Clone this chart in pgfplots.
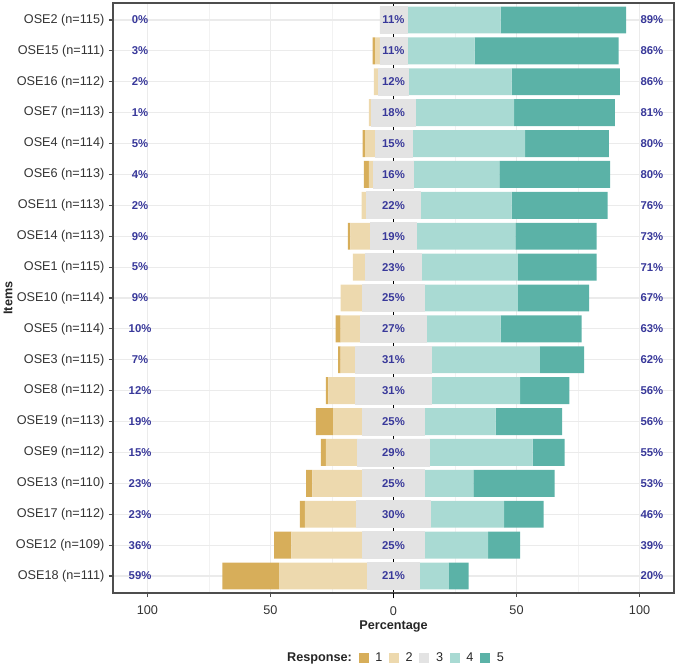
\documentclass[border=0pt]{standalone}
\usepackage{pgfplots}
\pgfplotsset{compat=1.18}
\usepackage{pgfplotstable}
\usepackage{fontspec}
\setmainfont{Liberation Sans}
\definecolor{c1}{HTML}{D7AE5A}
\definecolor{c2}{HTML}{EDD9AE}
\definecolor{c3}{HTML}{E3E3E3}
\definecolor{c4}{HTML}{A9DAD3}
\definecolor{c5}{HTML}{5BB2A7}
\definecolor{pctblue}{HTML}{38389A}
\definecolor{framegray}{HTML}{4D4D4D}
\definecolor{txtgray}{HTML}{333333}

\pgfplotstableread{
y p1 p2 p3 p4 p5 lo mid hi
19 0 0 11 38 51 0 11 89
18 1 2 11 27.5 58.5 3 11 86
17 0 2 12 42 44 2 12 86
16 0 1 18 40 41 1 18 81
15 1 4 15 46 34 5 15 80
14 2 2 16 35 45 4 16 80
13 0 2 22 37 39 2 22 76
12 1 8 19 40 33 9 19 73
11 0 5 23 39 32 5 23 71
10 0 9 25 38 29 9 25 67
9 2 8 27 30 33 10 27 63
8 1 6 31 44 18 7 31 62
7 1 11 31 36 20 12 31 56
6 7 12 25 29 27 19 25 56
5 2 13 29 42 13 15 29 55
4 2.5 20.5 25 20 33 23 25 53
3 2 21 30 30 16 23 30 46
2 7 29 25 26 13 36 25 39
1 23 36 21 12 8 59 21 20
}\likert

\pgfplotsset{
  likertbase/.style={
    scale only axis, width=420.75pt, height=442.5pt,
    xmin=-114, xmax=114, ymin=0.45, ymax=19.55,
    at={(0,0)}, anchor=south west,
  },
}
\begin{document}
\begin{tikzpicture}
% axis 0: zero reference line, beneath everything
\begin{axis}[likertbase, hide axis]
\addplot[black, line width=0.8pt] coordinates {(0,0.45) (0,19.55)};
\end{axis}
% axis 1: frame, grid, negative side
\begin{axis}[likertbase,
  xbar stacked, bar width=20.2pt,
  axis line style={framegray, line width=1.1pt},
  xtick={-100,-50,50,100}, xticklabels={100,50,50,100},
  extra x ticks={0}, extra x tick labels={0},
  extra x tick style={grid=none, major tick length=4pt, tick style={black, line width=1.1pt}},
  minor xtick={-75,-25,25,75}, minor tick length=0pt,
  ytick={1,...,19},
  yticklabels={OSE18 (n=111),OSE12 (n=109),OSE17 (n=112),OSE13 (n=110),OSE9 (n=112),OSE19 (n=113),OSE8 (n=112),OSE3 (n=115),OSE5 (n=114),OSE10 (n=114),OSE1 (n=115),OSE14 (n=113),OSE11 (n=113),OSE6 (n=113),OSE4 (n=114),OSE7 (n=113),OSE16 (n=112),OSE15 (n=111),OSE2 (n=115)},
  tick pos=left, tick align=outside, major tick length=3pt,
  tick style={framegray, line width=0.8pt},
  xmajorgrids, xminorgrids, ymajorgrids,
  major grid style={draw=black!8, line width=0.8pt},
  minor grid style={draw=black!5, line width=0.6pt},
  ticklabel style={font=\fontsize{9.5}{11}\selectfont, text=txtgray},
  xticklabel style={yshift=-3pt},
  xlabel={\textbf{Percentage}}, ylabel={\textbf{Items}},
  every axis x label/.style={at={(axis description cs:0.5,-0.0565)}, anchor=center, font=\fontsize{9.5}{11}\selectfont, text=black!85},
  every axis y label/.style={at={(axis description cs:-0.1872,0.5)}, rotate=90, anchor=center, font=\fontsize{9.5}{11}\selectfont, text=black!85},
  legend columns=-1,
  legend style={at={(axis description cs:0.5,-0.110)}, anchor=center, draw=none, fill=none,
    font=\fontsize{9.5}{11}\selectfont, text=black!85,
    /tikz/every odd column/.append style={column sep=3pt},
    /tikz/every even column/.append style={column sep=3pt}},
]
\addplot[fill=c3, draw=c3, line width=0.6pt, forget plot] table[x expr=-\thisrow{p3}/2, y=y] {\likert};
\addplot[fill=c2, draw=none, forget plot] table[x expr=-\thisrow{p2}, y=y] {\likert};
\addplot[fill=c1, draw=none, forget plot] table[x expr=-\thisrow{p1}, y=y] {\likert};
\addlegendimage{empty legend}
\addlegendentry{\textbf{Response:}}
\addlegendimage{fill=c1, draw=none, legend image code/.code={\fill (0pt,-3.75pt) rectangle (7.5pt,3.75pt);}}
\addlegendentry{1}
\addlegendimage{fill=c2, draw=none, legend image code/.code={\fill (0pt,-3.75pt) rectangle (7.5pt,3.75pt);}}
\addlegendentry{2}
\addlegendimage{fill=c3, draw=none, legend image code/.code={\fill (0pt,-3.75pt) rectangle (7.5pt,3.75pt);}}
\addlegendentry{3}
\addlegendimage{fill=c4, draw=none, legend image code/.code={\fill (0pt,-3.75pt) rectangle (7.5pt,3.75pt);}}
\addlegendentry{4}
\addlegendimage{fill=c5, draw=none, legend image code/.code={\fill (0pt,-3.75pt) rectangle (7.5pt,3.75pt);}}
\addlegendentry{5}
\end{axis}
% axis 2: positive side
\begin{axis}[likertbase, hide axis, xbar stacked, bar width=20.2pt]
\addplot[fill=c3, draw=c3, line width=0.6pt] table[x expr=\thisrow{p3}/2, y=y] {\likert};
\addplot[fill=c4, draw=none] table[x=p4, y=y] {\likert};
\addplot[fill=c5, draw=none] table[x=p5, y=y] {\likert};
\end{axis}
% axis 3: percentage labels
\begin{axis}[likertbase, hide axis,
  nodes near coords={\pgfmathprintnumber[fixed,precision=0,assume math mode=true]{\pgfplotspointmeta}\%},
  point meta=explicit,
  every node near coord/.style={anchor=center, font=\bfseries\fontsize{8.5}{10}\selectfont, text=pctblue},
]
\addplot[draw=none, mark=none] table[x expr=-103, y=y, meta=lo] {\likert};
\addplot[draw=none, mark=none] table[x expr=0, y=y, meta=mid] {\likert};
\addplot[draw=none, mark=none] table[x expr=105, y=y, meta=hi] {\likert};
\end{axis}
\pgfresetboundingbox
\path[use as bounding box] (-84.75pt,-57pt) rectangle (424.5pt,444.75pt);
\end{tikzpicture}
\end{document}
